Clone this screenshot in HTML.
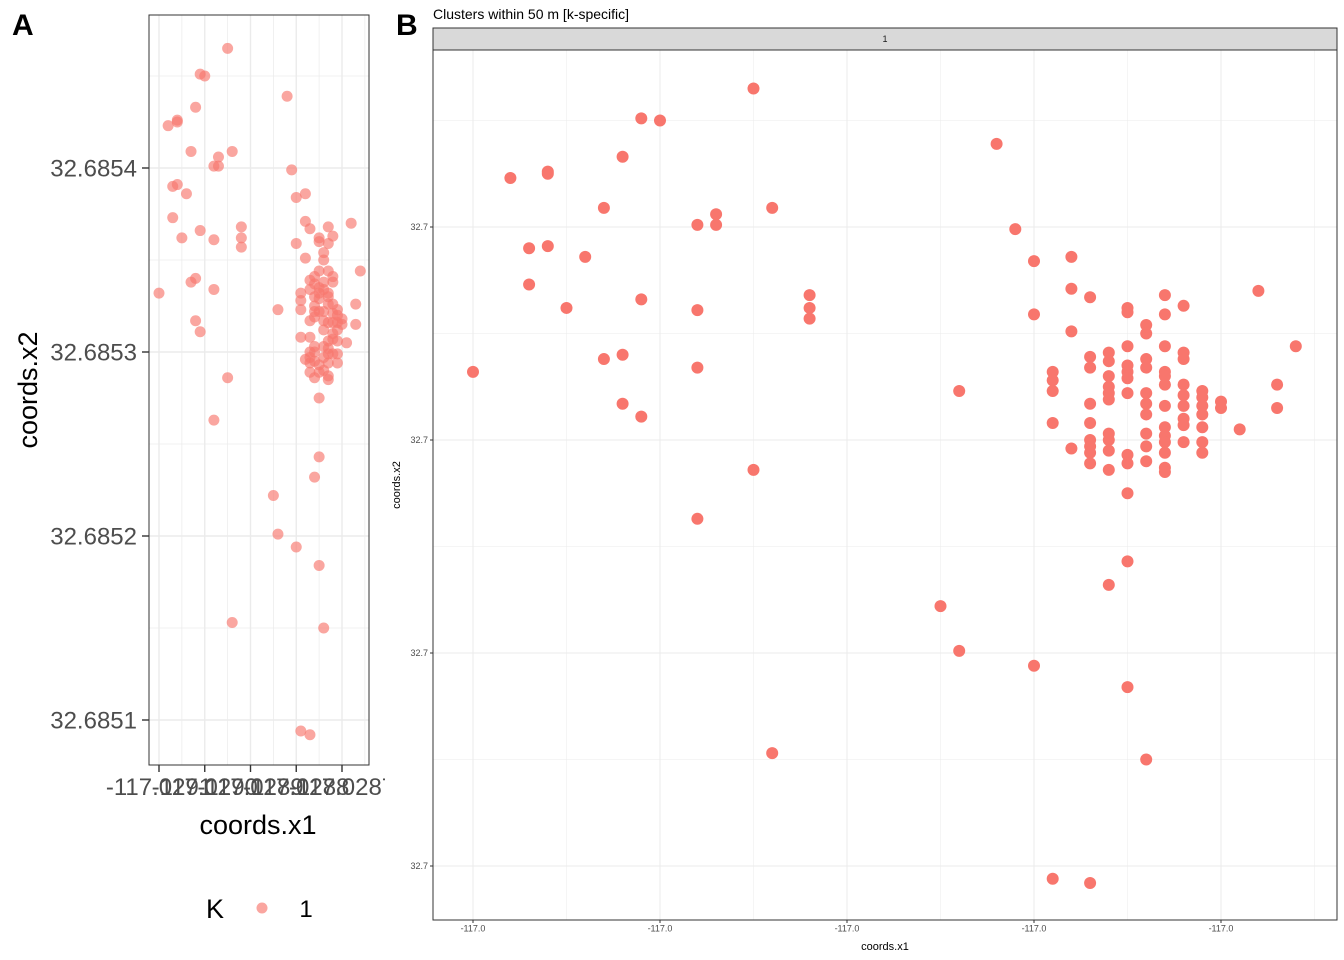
<!DOCTYPE html>
<html><head><meta charset="utf-8"><style>
html,body{margin:0;padding:0;background:#fff;overflow:hidden;width:1344px;height:960px;}
svg{display:block;font-family:"Liberation Sans",sans-serif;}
</style></head><body>
<svg id="chart" width="1344" height="960" viewBox="0 0 1344 960" xmlns="http://www.w3.org/2000/svg">
<defs>
<clipPath id="clipA"><rect x="149" y="15" width="220" height="750"/></clipPath>
<clipPath id="clipB"><rect x="433" y="50" width="904" height="870"/></clipPath>
<clipPath id="clipLeft"><rect x="0" y="0" width="385" height="960"/></clipPath>
</defs>
<rect x="0" y="0" width="1344" height="960" fill="#fff"/>
<g id="panelA" clip-path="url(#clipLeft)"></g>
<g id="panelB"></g>
<text x="12" y="35" font-size="30" font-weight="bold">A</text>
<text x="396" y="35" font-size="30" font-weight="bold">B</text>
<text x="433" y="19" font-size="14" fill="#000">Clusters within 50 m [k-specific]</text>
</svg>
<script>
const x1 = [-117.028950,-117.029010,-117.029000,-117.028820,-117.029020,-117.029060,-117.029060,-117.029080,-117.029030,-117.028940,
-117.028970,-117.028980,-117.028970,-117.028810,-117.029070,-117.029060,-117.029040,-117.029070,-117.029010,-117.028920,
-117.028920,-117.028920,-117.029050,-117.028980,-117.029030,-117.029020,-117.028980,-117.029100,-117.028840,-117.029020,
-117.029010,-117.028950,-117.028980,-117.028750,-117.028760,-117.028850,-117.028840,-117.028800,-117.028750,-117.028940,
-117.028740,-117.028790,-117.028770,
-117.028800,-117.028780,-117.028780,-117.028770,-117.028730,-117.028720,-117.028680,-117.028800,-117.028750,-117.028750,
-117.028730,-117.028740,-117.028740,-117.028780,-117.028660,-117.028750,-117.028730,-117.028720,-117.028720,-117.028770,
-117.028770,-117.028760,-117.028760,-117.028750,-117.028750,-117.028750,-117.028740,-117.028740,-117.028790,-117.028790,
-117.028790,-117.028760,-117.028760,-117.028760,-117.028760,-117.028750,-117.028730,-117.028730,-117.028730,-117.028720,
-117.028720,-117.028720,-117.028670,-117.028740,-117.028740,-117.028740,-117.028730,-117.028710,-117.028710,-117.028710,
-117.028710,-117.028700,-117.028700,-117.028670,-117.028770,-117.028720,-117.028720,-117.028710,-117.028690,-117.028790,
-117.028770,-117.028730,-117.028730,-117.028730,-117.028740,-117.028760,-117.028760,-117.028760,-117.028770,-117.028770,
-117.028770,-117.028780,-117.028720,-117.028710,-117.028710,-117.028740,-117.028730,-117.028750,-117.028750,-117.028770,
-117.028760,-117.028740,-117.028730,-117.028730,-117.028750];
const x2 = [32.685465,32.685451,32.685450,32.685439,32.685433,32.685426,32.685425,32.685423,32.685409,32.685409,
32.685406,32.685401,32.685401,32.685399,32.685390,32.685391,32.685386,32.685373,32.685366,32.685368,
32.685362,32.685357,32.685362,32.685361,32.685338,32.685340,32.685334,32.685332,32.685323,32.685317,
32.685311,32.685286,32.685263,32.685243,32.685232,32.685222,32.685201,32.685194,32.685184,32.685153,
32.685150,32.685094,32.685092,
32.685384,32.685386,32.685371,32.685367,32.685368,32.685363,32.685370,32.685359,32.685362,32.685360,
32.685359,32.685354,32.685350,32.685351,32.685344,32.685344,32.685344,32.685341,32.685338,32.685339,
32.685334,32.685341,32.685337,32.685335,32.685332,32.685329,32.685338,32.685334,32.685332,32.685328,
32.685323,32.685330,32.685325,32.685322,32.685319,32.685322,32.685332,32.685330,32.685326,32.685326,
32.685321,32.685316,32.685326,32.685322,32.685317,32.685312,32.685316,32.685323,32.685320,32.685316,
32.685312,32.685318,32.685315,32.685315,32.685317,32.685310,32.685307,32.685306,32.685305,32.685308,
32.685308,32.685306,32.685302,32.685299,32.685303,32.685303,32.685300,32.685295,32.685300,32.685297,
32.685294,32.685296,32.685299,32.685299,32.685294,32.685297,32.685294,32.685293,32.685289,32.685289,
32.685286,32.685290,32.685287,32.685285,32.685275];
const xTicks = [-117.0291,-117.0290,-117.0289,-117.0288,-117.0287];
const xTickLabelsA = ["-117.0291","-117.0290","-117.0289","-117.0288","-117.0287"];
const xTickLabelsB = ["-117.0","-117.0","-117.0","-117.0","-117.0"];
const yTicks = [32.6854,32.6853,32.6852,32.6851];
const yTickLabelsA = ["32.6854","32.6853","32.6852","32.6851"];
const yTickLabelsB = ["32.7","32.7","32.7","32.7"];

const NS="http://www.w3.org/2000/svg";
function mk(parent,tag,attrs,txt){const e=document.createElementNS(NS,tag);for(const k in attrs)e.setAttribute(k,attrs[k]);if(txt!==undefined)e.textContent=txt;parent.appendChild(e);return e;}

function drawPanel(g,cfg){
  const sx=v=>cfg.x0+(v-(-117.0291))/0.0001*cfg.xs;
  const sy=v=>cfg.y0-(v-32.6854)/0.0001*cfg.ys;
  const bg=mk(g,'rect',{x:cfg.L,y:cfg.T,width:cfg.R-cfg.L,height:cfg.B-cfg.T,fill:'#fff'});
  
  
  const grid=mk(g,'g',{'clip-path':cfg.clip});
  
  
  for(let k=-2;k<=6;k++){
    const v=-117.0291+k*0.0001;
    mk(grid,'line',{x1:sx(v),x2:sx(v),y1:cfg.T,y2:cfg.B,stroke:'#ebebeb','stroke-width':cfg.gw});
    mk(grid,'line',{x1:sx(v+0.00005),x2:sx(v+0.00005),y1:cfg.T,y2:cfg.B,stroke:'#ebebeb','stroke-width':cfg.gw/2});
  }
  for(let k=-3;k<=5;k++){
    const v=32.6851+k*0.0001;
    mk(grid,'line',{y1:sy(v),y2:sy(v),x1:cfg.L,x2:cfg.R,stroke:'#ebebeb','stroke-width':cfg.gw});
    mk(grid,'line',{y1:sy(v+0.00005),y2:sy(v+0.00005),x1:cfg.L,x2:cfg.R,stroke:'#ebebeb','stroke-width':cfg.gw/2});
  }
  const pts=mk(g,'g',{'clip-path':cfg.clip});
  
  
  for(let i=0;i<x1.length;i++){
    const c=mk(pts,'circle',{cx:sx(x1[i]),cy:sy(x2[i]),r:cfg.r,fill:'#F8766D','fill-opacity':cfg.op});
    
    
  }
  const bd=mk(g,'rect',{x:cfg.L,y:cfg.T,width:cfg.R-cfg.L,height:cfg.B-cfg.T,fill:'none',stroke:'#333','stroke-width':1});
  
  
  xTicks.forEach((v,i)=>{
    mk(g,'line',{x1:sx(v),x2:sx(v),y1:cfg.B,y2:cfg.B+cfg.tl,stroke:'#333','stroke-width':cfg.tw});
    const t=mk(g,'text',{x:sx(v),y:cfg.B+cfg.tl+cfg.fs*0.95,'font-size':cfg.fs,fill:'#4d4d4d','text-anchor':'middle'},cfg.xl[i]);
    
    
  });
  yTicks.forEach((v,i)=>{
    mk(g,'line',{x1:cfg.L-cfg.tl,x2:cfg.L,y1:sy(v),y2:sy(v),stroke:'#333','stroke-width':cfg.tw});
    const t=mk(g,'text',{x:cfg.L-cfg.tl-cfg.ygap,y:sy(v)+cfg.fs*0.35,'font-size':cfg.fs,fill:'#4d4d4d','text-anchor':'end'},cfg.yl[i]);
    
    
  });
}

const gA=document.getElementById('panelA');
drawPanel(gA,{L:149,R:369,T:15,B:765,x0:159,xs:45.75,y0:168,ys:184,r:5.5,op:0.65,clip:'url(#clipA)',gw:1.4,tl:7,tw:1.4,fs:24,ygap:5,xl:xTickLabelsA,yl:yTickLabelsA});
const gB=document.getElementById('panelB');
drawPanel(gB,{L:433,R:1337,T:50,B:920,x0:473,xs:187,y0:227,ys:213,r:6,op:1,clip:'url(#clipB)',gw:1,tl:3,tw:1,fs:9,ygap:2,xl:xTickLabelsB,yl:yTickLabelsB});

const svg=document.getElementById('chart');
let e;
e=mk(svg,'text',{x:258,y:834,'font-size':27,'text-anchor':'middle',fill:'#000'},'coords.x1');


e=mk(svg,'text',{x:0,y:0,'font-size':27,'text-anchor':'middle',fill:'#000',transform:'translate(37,390) rotate(-90)'},'coords.x2');


e=mk(svg,'text',{x:215,y:918,'font-size':27,'text-anchor':'middle',fill:'#000'},'K');


e=mk(svg,'circle',{cx:262,cy:908,r:5.5,fill:'#F8766D','fill-opacity':0.65});


e=mk(svg,'text',{x:306,y:917,'font-size':24,'text-anchor':'middle',fill:'#000'},'1');


e=mk(svg,'rect',{x:433,y:28,width:904,height:22,fill:'#d9d9d9',stroke:'#333','stroke-width':1});


e=mk(svg,'text',{x:885,y:42,'font-size':9,'text-anchor':'middle',fill:'#1a1a1a'},'1');


e=mk(svg,'text',{x:885,y:950,'font-size':11,'text-anchor':'middle',fill:'#000'},'coords.x1');


e=mk(svg,'text',{x:0,y:0,'font-size':11,'text-anchor':'middle',fill:'#000',transform:'translate(400,485) rotate(-90)'},'coords.x2');


</script>
</body></html>
